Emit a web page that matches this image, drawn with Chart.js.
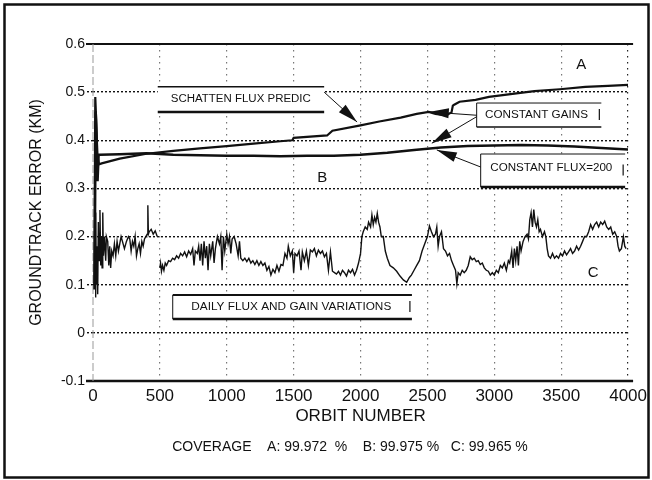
<!DOCTYPE html>
<html><head><meta charset="utf-8">
<script src="https://cdn.jsdelivr.net/npm/chart.js@4.4.1/dist/chart.umd.min.js"></script>
<style>html,body{margin:0;padding:0;background:#fff}canvas{display:block}</style>
</head><body>
<canvas id="c" width="652" height="480"></canvas>
<script>
const xTickValues = [0, 500, 1000, 1500, 2000, 2500, 3000, 3500, 4000];
const xTickLabels = ['0', '500', '1000', '1500', '2000', '2500', '3000', '3500', '4000'];
const yTickValues = [-0.1, 0, 0.1, 0.2, 0.3, 0.4, 0.5, 0.6];
const yTickLabels = ['-0.1', '0', '0.1', '0.2', '0.3', '0.4', '0.5', '0.6'];

// Curve A: Schatten flux prediction, constant gains
const aOrbit = [10, 17, 24, 32, 45, 65, 200, 400, 600, 800, 1000, 1200, 1400, 1490, 1500, 1750, 1790, 2000, 2140, 2300, 2420, 2510, 2560, 2640, 2680, 2690, 2700, 2740, 2860, 2960, 3180, 3300, 3490, 3680, 3850, 4000];
const aError = [0.09, 0.49, 0.44, 0.37, 0.35, 0.352, 0.362, 0.372, 0.378, 0.383, 0.388, 0.393, 0.398, 0.4, 0.405, 0.41, 0.42, 0.431, 0.439, 0.447, 0.455, 0.459, 0.455, 0.452, 0.458, 0.472, 0.474, 0.48, 0.484, 0.49, 0.498, 0.502, 0.506, 0.511, 0.513, 0.515];

// Curve B: constant flux = 200, constant gains
const bOrbit = [12, 20, 28, 34, 42, 50, 200, 400, 600, 800, 1000, 1200, 1400, 1600, 1800, 2000, 2200, 2400, 2600, 2800, 3000, 3200, 3400, 3600, 3800, 4000];
const bError = [0.1, 0.46, 0.40, 0.315, 0.37, 0.37, 0.371, 0.373, 0.37, 0.369, 0.368, 0.368, 0.367, 0.368, 0.368, 0.37, 0.374, 0.38, 0.385, 0.388, 0.389, 0.39, 0.389, 0.387, 0.384, 0.381];

// Curve C: daily flux and gain variations
const cOrbit = [15, 20, 25, 30, 35, 40, 45, 52, 58, 63, 68, 73, 78, 85, 95, 100, 110, 118, 125, 132, 140, 150, 160, 170, 180, 190, 200, 210, 220, 235, 250, 265, 275, 285, 295, 305, 315, 325, 335, 345, 355, 365, 375, 385, 395, 405, 410, 414, 420, 435, 450, 465, 480, 490,
  500, 505, 512, 520, 530, 540, 550, 565, 580, 595, 610, 625, 640, 655, 670, 685, 700, 715, 730, 745, 755, 765, 780, 790, 800, 810, 820, 830, 840, 850, 860, 870, 880, 895, 905, 915, 930, 945, 955, 965, 975, 985,
  1000, 1010, 1020, 1030, 1040, 1055, 1070, 1085, 1095, 1105, 1120, 1135, 1150, 1165, 1180, 1195, 1210, 1225, 1240, 1255, 1270, 1285, 1300, 1315, 1330, 1345, 1360, 1375, 1390, 1405, 1420, 1435, 1450, 1460, 1475, 1490,
  1500, 1510, 1525, 1540, 1555, 1565, 1580, 1595, 1610, 1625, 1640, 1655, 1670, 1685, 1700, 1715, 1730, 1745, 1760, 1775, 1790, 1805, 1820, 1835, 1850, 1865, 1880, 1895, 1910, 1925, 1940, 1955, 1970, 1985,
  2000, 2010, 2020, 2035, 2050, 2060, 2075, 2085, 2095, 2105, 2115, 2125, 2135, 2145, 2155, 2170, 2185, 2200, 2220, 2245, 2270, 2295, 2320, 2345, 2365, 2380, 2400, 2420, 2440, 2460, 2480,
  2500, 2515, 2530, 2545, 2560, 2570, 2580, 2590, 2605, 2620, 2635, 2650, 2665, 2680, 2695, 2710, 2720, 2730, 2745, 2760, 2775, 2790, 2805, 2820, 2835, 2850, 2865, 2880, 2895, 2910, 2925, 2940, 2955, 2970, 2985,
  3000, 3015, 3030, 3045, 3060, 3075, 3090, 3105, 3115, 3130, 3140, 3150, 3160, 3170, 3180, 3190, 3200, 3215, 3230, 3245, 3255, 3265, 3275, 3285, 3295, 3305, 3315, 3325, 3335, 3345, 3360, 3375, 3385, 3395, 3405, 3420, 3435, 3450, 3465, 3480, 3495,
  3510, 3525, 3540, 3555, 3570, 3585, 3600, 3615, 3630, 3645, 3660, 3675, 3690, 3705, 3720, 3735, 3750, 3765, 3780, 3795, 3810, 3825, 3840, 3855, 3870, 3885, 3900, 3915, 3925, 3935, 3950, 3965, 3975, 3985];
const cError = [0.075, 0.25, 0.10, 0.18, 0.08, 0.23, 0.15, 0.255, 0.14, 0.2, 0.135, 0.25, 0.16, 0.2, 0.15, 0.2, 0.19, 0.14, 0.18, 0.135, 0.17, 0.16, 0.185, 0.16, 0.19, 0.17, 0.185, 0.2, 0.19, 0.175, 0.19, 0.2, 0.195, 0.17, 0.19, 0.18, 0.2, 0.16, 0.175, 0.185, 0.165, 0.19, 0.18, 0.195, 0.2, 0.205, 0.265, 0.205, 0.21, 0.215, 0.205, 0.212, 0.2, null,
  0.135, 0.145, 0.128, 0.14, 0.13, 0.145, 0.14, 0.15, 0.148, 0.155, 0.152, 0.16, 0.155, 0.165, 0.16, 0.168, 0.158, 0.17, 0.163, 0.175, 0.14, 0.17, 0.165, 0.18, 0.15, 0.185, 0.14, 0.19, 0.155, 0.18, 0.13, 0.185, 0.16, 0.19, 0.145, 0.175, 0.2, 0.185, 0.2, 0.13, 0.2, 0.17,
  0.205, 0.185, 0.2, 0.165, 0.195, 0.2, 0.185, 0.16, 0.19, 0.155, 0.15, 0.155, 0.148, 0.155, 0.145, 0.15, 0.142, 0.15, 0.14, 0.148, 0.14, 0.145, 0.13, 0.138, 0.12, 0.132, 0.125, 0.14, 0.128, 0.142, 0.14, 0.165, 0.155, 0.18, 0.16, 0.17,
  0.125, 0.165, 0.16, 0.17, 0.13, 0.168, 0.15, 0.17, 0.14, 0.172, 0.168, 0.175, 0.16, 0.172, 0.165, 0.17, 0.158, 0.165, 0.13, 0.168, 0.128, 0.125, 0.122, 0.128, 0.12, 0.13, 0.125, 0.118, 0.13, 0.125, 0.132, 0.12, 0.13, 0.145,
  0.165, 0.2, 0.21, 0.22, 0.215, 0.23, 0.22, 0.245, 0.225, 0.24, 0.23, 0.248, 0.23, 0.22, 0.2, 0.2, 0.17, 0.155, 0.14, 0.135, 0.128, 0.118, 0.11, 0.105, 0.115, 0.12, 0.13, 0.14, 0.15, 0.17, 0.185,
  0.2, 0.222, 0.21, 0.2, 0.205, 0.22, 0.18, 0.2, 0.21, 0.175, 0.17, 0.16, 0.165, 0.15, 0.14, 0.13, 0.102, 0.125, 0.12, 0.13, 0.125, 0.13, 0.14, 0.158, 0.152, 0.155, 0.148, 0.15, 0.142, 0.145, 0.135, 0.13, 0.128, 0.12, 0.125,
  0.12, 0.13, 0.125, 0.14, 0.135, 0.145, 0.13, 0.15, 0.145, 0.17, 0.135, 0.175, 0.15, 0.18, 0.14, 0.19, 0.17, 0.19, 0.2, 0.205, 0.195, 0.235, 0.25, 0.22, 0.256, 0.23, 0.22, 0.235, 0.21, 0.215, 0.2, 0.21, 0.2, 0.175, 0.16, 0.155, 0.165, 0.155, 0.16, 0.155, 0.165,
  0.16, 0.17, 0.162, 0.168, 0.175, 0.165, 0.17, 0.18, 0.172, 0.18, 0.19, 0.2, 0.2, 0.21, 0.225, 0.215, 0.225, 0.23, 0.22, 0.23, 0.225, 0.232, 0.22, 0.215, 0.22, 0.205, 0.21, 0.2, 0.18, 0.17, 0.175, 0.2, 0.18, 0.175];

const coverageText = 'COVERAGE    A: 99.972  %    B: 99.975 %   C: 99.965 %';

const FONT = '"Liberation Sans", Arial, Helvetica, sans-serif';
const toPts = (xs, ys) => xs.map((x, i) => ({x: x, y: ys[i]}));

// annotation layout (in data coordinates)
const boxes = [
  {x0: 484, x1: 1728, y0: 0.511, y1: 0.459, text: 'SCHATTEN FLUX PREDIC', tx: 1105, ty: 0.486, tw: 140, top: 1.5, bottom: 2.5, left: false, rightTick: false},
  {x0: 2868, x1: 3800, y0: 0.4774, y1: 0.4276, text: 'CONSTANT GAINS', tx: 3315, ty: 0.452, tw: 103, top: 1, bottom: 1.5, left: true, rightTick: true},
  {x0: 2898, x1: 3978, y0: 0.3715, y1: 0.303, text: 'CONSTANT FLUX=200', tx: 3426, ty: 0.342, tw: 122, top: 1, bottom: 2.5, left: true, rightTick: true},
  {x0: 596, x1: 2384, y0: 0.0786, y1: 0.0288, text: 'DAILY FLUX AND GAIN VARIATIONS', tx: 1482, ty: 0.0537, tw: 200, top: 2, bottom: 2.5, left: true, rightTick: true}
];
const arrows = [
  [1728, 0.5, 1974, 0.438],
  [2868, 0.452, 2510, 0.459],
  [2868, 0.449, 2533, 0.394],
  [2898, 0.3445, 2570, 0.38]
];
const letters = [['A', 3650, 0.556], ['B', 1713, 0.322], ['C', 3739, 0.124]];

const decor = {
  id: 'decor',
  beforeDraw(chart) {
    const ctx = chart.ctx;
    ctx.save();
    ctx.fillStyle = '#fff';
    ctx.fillRect(0, 0, chart.width, chart.height);
    ctx.restore();
  },
  beforeDatasetsDraw(chart) {
    const {ctx, chartArea: a, scales: {x, y}} = chart;
    ctx.save();
    ctx.strokeStyle = '#111';
    ctx.lineWidth = 2;
    let yy = y.getPixelForValue(0.6);
    ctx.beginPath(); ctx.moveTo(a.left - 7, yy); ctx.lineTo(a.right + 5, yy); ctx.stroke();
    ctx.lineWidth = 2.5;
    yy = y.getPixelForValue(-0.1);
    ctx.beginPath(); ctx.moveTo(a.left - 7, yy); ctx.lineTo(a.right + 5, yy); ctx.stroke();
    ctx.strokeStyle = '#999';
    ctx.lineWidth = 1;
    ctx.setLineDash([8, 3]);
    const xx = x.getPixelForValue(0);
    ctx.beginPath(); ctx.moveTo(xx, a.top); ctx.lineTo(xx, a.bottom); ctx.stroke();
    ctx.restore();
  },
  afterDatasetsDraw(chart) {
    const {ctx, scales: {x, y}} = chart;
    ctx.save();
    ctx.strokeStyle = '#111';
    ctx.fillStyle = '#111';
    boxes.forEach(b => {
      const l = x.getPixelForValue(b.x0), r = x.getPixelForValue(b.x1);
      const t = y.getPixelForValue(b.y0), btm = y.getPixelForValue(b.y1);
      ctx.fillStyle = '#fff';
      ctx.fillRect(l, t, r - l, btm - t);
      ctx.fillStyle = '#111';
      ctx.lineWidth = b.top;
      ctx.beginPath(); ctx.moveTo(l, t); ctx.lineTo(r, t); ctx.stroke();
      ctx.lineWidth = b.bottom;
      ctx.beginPath(); ctx.moveTo(l, btm); ctx.lineTo(r, btm); ctx.stroke();
      if (b.left) {
        ctx.lineWidth = 1;
        ctx.beginPath(); ctx.moveTo(l, t); ctx.lineTo(l, btm); ctx.stroke();
      }
      if (b.rightTick) {
        const m = (t + btm) / 2;
        ctx.lineWidth = 1.2;
        ctx.beginPath(); ctx.moveTo(r - 2, m - 6); ctx.lineTo(r - 2, m + 5); ctx.stroke();
      }
      ctx.font = '10px ' + FONT;
      ctx.textAlign = 'center';
      ctx.textBaseline = 'middle';
      const w = ctx.measureText(b.text).width;
      ctx.save();
      ctx.translate(x.getPixelForValue(b.tx), y.getPixelForValue(b.ty));
      ctx.scale(b.tw / w, 1);
      ctx.fillText(b.text, 0, 0);
      ctx.restore();
    });
    arrows.forEach(([ox, oy, tx, ty]) => {
      const x1 = x.getPixelForValue(ox), y1 = y.getPixelForValue(oy);
      const x2 = x.getPixelForValue(tx), y2 = y.getPixelForValue(ty);
      const ang = Math.atan2(y2 - y1, x2 - x1);
      const L = 20, W = 5;
      ctx.lineWidth = 1;
      ctx.beginPath(); ctx.moveTo(x1, y1); ctx.lineTo(x2, y2); ctx.stroke();
      const bx = x2 - L * Math.cos(ang), by = y2 - L * Math.sin(ang);
      ctx.beginPath();
      ctx.moveTo(x2, y2);
      ctx.lineTo(bx + W * Math.sin(ang), by - W * Math.cos(ang));
      ctx.lineTo(bx - W * Math.sin(ang), by + W * Math.cos(ang));
      ctx.closePath();
      ctx.fill();
    });
    ctx.font = '15px ' + FONT;
    ctx.textAlign = 'center';
    ctx.textBaseline = 'middle';
    letters.forEach(([t, lx, ly]) => ctx.fillText(t, x.getPixelForValue(lx), y.getPixelForValue(ly)));
    ctx.restore();
  },
  afterDraw(chart) {
    const ctx = chart.ctx;
    ctx.save();
    ctx.strokeStyle = '#111';
    ctx.lineWidth = 2.5;
    ctx.strokeRect(4.5, 4.5, chart.width - 8, chart.height - 7);
    ctx.fillStyle = '#111';
    ctx.font = '14px ' + FONT;
    ctx.textAlign = 'center';
    ctx.textBaseline = 'middle';
    ctx.fillText(coverageText, 350, 447.5);
    ctx.restore();
  }
};

new Chart(document.getElementById('c'), {
  type: 'line',
  data: {
    datasets: [
      {label: 'A', data: toPts(aOrbit, aError), borderColor: '#111', borderWidth: 2.2, pointRadius: 0, tension: 0},
      {label: 'B', data: toPts(bOrbit, bError), borderColor: '#111', borderWidth: 2.5, pointRadius: 0, tension: 0},
      {label: 'C', data: toPts(cOrbit, cError), borderColor: '#111', borderWidth: 1.4, pointRadius: 0, tension: 0, spanGaps: false}
    ]
  },
  options: {
    responsive: false,
    animation: false,
    layout: {padding: {left: 0, right: 22, top: 44, bottom: 53}},
    plugins: {legend: {display: false}, tooltip: {enabled: false}},
    scales: {
      x: {
        type: 'linear', min: 0, max: 4000,
        afterBuildTicks: s => { s.ticks = xTickValues.map(v => ({value: v})); },
        afterFit: s => { s.height = 46; },
        ticks: {callback: (v, i) => xTickLabels[i], font: {family: FONT, size: 17}, color: '#111', padding: 5, maxRotation: 0, autoSkip: false},
        grid: {
          drawTicks: false,
          color: c => (c.tick && c.tick.value === 0) ? 'rgba(0,0,0,0)' : ((c.tick && c.tick.value === 4000) ? '#222' : '#777'),
          lineWidth: 1.2
        },
        border: {display: false, dash: [1.5, 4.5]},
        title: {display: true, text: 'ORBIT NUMBER', font: {family: FONT, size: 17}, color: '#111', padding: {top: 0, bottom: 0}}
      },
      y: {
        min: -0.1, max: 0.6,
        afterBuildTicks: s => { s.ticks = yTickValues.map(v => ({value: v})); },
        afterFit: s => { s.width = 93; },
        ticks: {callback: (v, i) => yTickLabels[i], font: {family: FONT, size: 14}, color: '#111', padding: 2, autoSkip: false},
        grid: {
          drawTicks: true, tickLength: 6,
          color: c => (c.tick && (c.tick.value === 0.6 || c.tick.value === -0.1)) ? 'rgba(0,0,0,0)' : '#111',
          tickColor: c => (c.tick && (c.tick.value === 0.6 || c.tick.value === -0.1)) ? 'rgba(0,0,0,0)' : '#111',
          lineWidth: 1.4,
          tickBorderDash: [2, 2]
        },
        border: {display: false, dash: [2, 2]},
        title: {display: true, text: 'GROUNDTRACK ERROR (KM)', font: {family: FONT, size: 16}, color: '#111', padding: {top: 27, bottom: 0}}
      }
    }
  },
  plugins: [decor]
});
</script>
</body></html>
